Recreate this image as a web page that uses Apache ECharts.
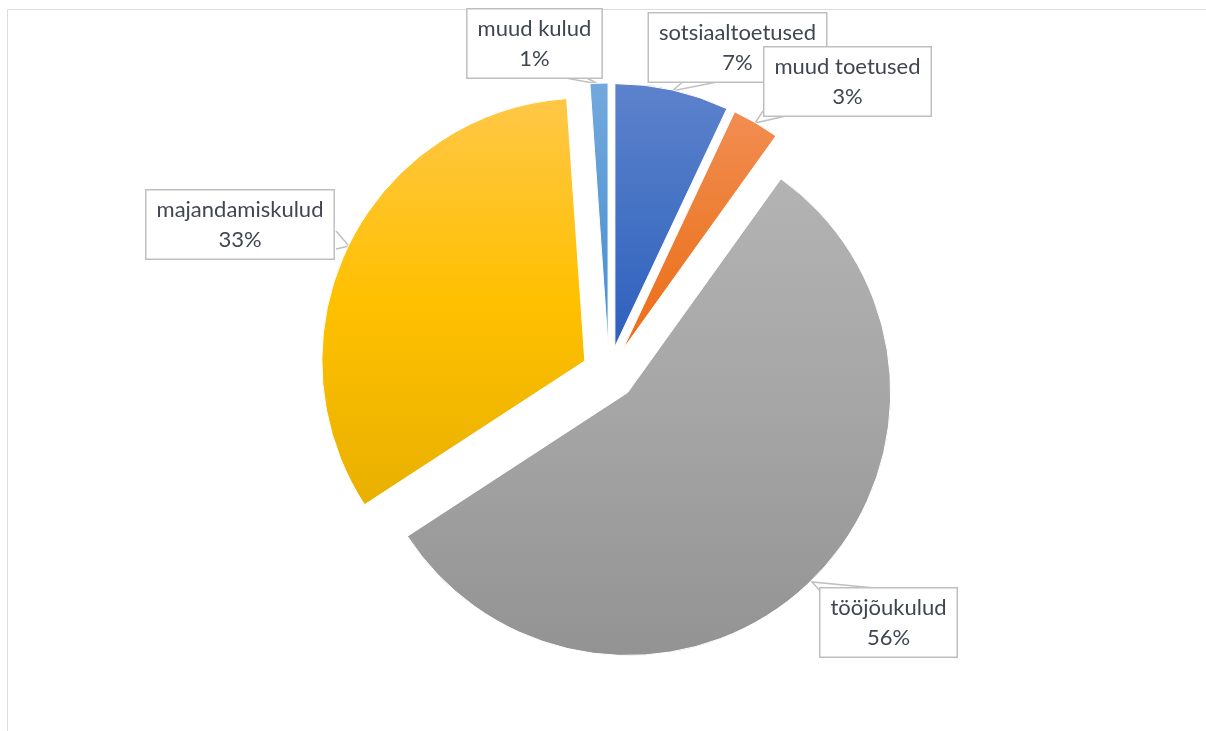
<!DOCTYPE html>
<html>
<head>
<meta charset="utf-8">
<script src="https://cdn.jsdelivr.net/npm/echarts@6/dist/echarts.min.js"></script>
<style>html,body{margin:0;padding:0;background:#fff}#c{width:1206px;height:731px}</style>
</head>
<body>
<div id="c"></div>
<script>
const categories = ['sotsiaaltoetused', 'muud toetused', 'tööjõukulud', 'majandamiskulud', 'muud kulud'];
const values = [7.0, 2.9, 55.9, 33.1, 1.1];
const gradients = [
  ['#5d82cc', '#4472c4', '#2f5fbf'],
  ['#f28d52', '#ed7d31', '#ee6d1a'],
  ['#b3b3b3', '#a5a5a5', '#939393'],
  ['#ffc747', '#ffc000', '#e8b000'],
  ['#73a9dd', '#5b9bd5', '#4a8ed2']
];
// callout box centres and pointer outlines in page pixels (layout only)
const labelCenters = [[737.5, 47.5], [847.5, 81.5], [888.5, 622.5], [240, 224.5], [534.5, 43.5]];
const pointerLines = [
  [[684, 81], [672, 91], [722, 81]],
  [[763, 111], [755, 123], [790, 115]],
  [[821, 592], [812, 582], [875, 588]],
  [[336, 231], [349, 246], [336, 249]],
  [[560, 77], [598, 84], [585, 77]]
];
const explode = 27;

// labels are moved together with their exploded slice; undo that shift
const total = values.reduce((a, b) => a + b, 0);
const shifts = [];
let acc = 0;
values.forEach(v => {
  const mid = (acc + v / 2) / total * Math.PI * 2;
  shifts.push([-explode * Math.sin(mid), explode * Math.cos(mid)]);
  acc += v;
});

const chart = echarts.init(document.getElementById('c'), null, {renderer: 'canvas'});
const data = categories.map((name, i) => ({
  name: name,
  value: values[i],
  selected: true,
  itemStyle: {
    color: {
      type: 'linear', x: 0, y: 0, x2: 0, y2: 1,
      colorStops: [
        {offset: 0, color: gradients[i][0]},
        {offset: 0.5, color: gradients[i][1]},
        {offset: 1, color: gradients[i][2]}
      ]
    }
  }
}));

const txt = {fontFamily: 'Lato', fontSize: 22, lineHeight: 30, color: '#3f4652', align: 'center'};

chart.setOption({
  animation: false,
  graphic: [{
    type: 'rect', z: -10, silent: true,
    shape: {x: 7.5, y: 9.5, width: 1300, height: 800},
    style: {fill: 'none', stroke: '#d9dde3', lineWidth: 1}
  }],
  series: [{
    type: 'pie',
    center: [609, 373],
    radius: 263,
    startAngle: 90,
    clockwise: true,
    selectedMode: 'multiple',
    selectedOffset: explode,
    avoidLabelOverlap: false,
    itemStyle: {borderColor: '#fff', borderWidth: 1},
    emphasis: {disabled: true},
    data: data,
    label: {
      show: true,
      position: 'outside',
      formatter: p => '{c|' + p.name + '}\n{c|' + Math.round(p.percent) + '%}',
      rich: {c: txt},
      fontFamily: 'Lato',
      fontSize: 22,
      lineHeight: 30,
      color: '#3f4652',
      backgroundColor: '#fff',
      borderColor: '#bfbfbf',
      borderWidth: 1.5,
      padding: [4, 10, 4, 10]
    },
    labelLine: {
      show: true,
      length: 5,
      length2: 5,
      lineStyle: {color: '#bfbfbf', width: 1.5}
    },
    labelLayout: function (params) {
      const i = params.dataIndex;
      const c = labelCenters[i];
      const s = shifts[i];
      const r = params.labelRect;
      return {
        dx: c[0] + s[0] - (r.x + r.width / 2),
        dy: c[1] + s[1] - (r.y + r.height / 2),
        hideOverlap: false,
        moveOverlap: false,
        labelLinePoints: pointerLines[i].map(p => [p[0] + s[0], p[1] + s[1]])
      };
    }
  }]
});
</script>
</body>
</html>
